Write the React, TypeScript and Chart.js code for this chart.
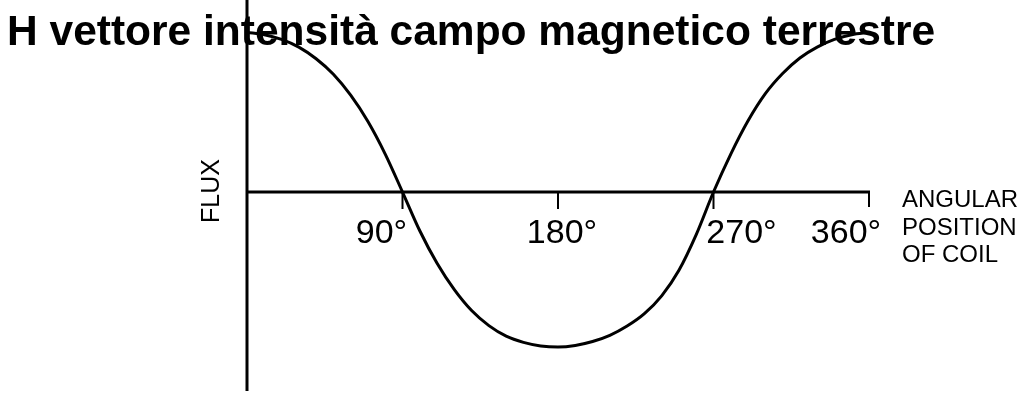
import React, { useEffect, useRef } from "react";
import { Chart, registerables } from "chart.js";

Chart.register(...registerables);

const titleText = "H vettore intensità campo magnetico terrestre";
const yAxisLabel = "FLUX";
const xAxisLabelLines = ["ANGULAR", "POSITION", "OF COIL"];

const angles = [0, 10, 20, 30, 40, 50, 60, 70, 80, 90, 100, 110, 120, 130, 140, 150, 160, 170, 180, 190, 200, 210, 220, 230, 240, 250, 260, 270, 280, 290, 300, 310, 320, 330, 340, 350, 360];
const flux = [1.03, 1.015, 0.985, 0.935, 0.86, 0.76, 0.625, 0.455, 0.245, 0, -0.25, -0.46, -0.63, -0.765, -0.862, -0.93, -0.97, -0.993, -1.0, -0.99, -0.965, -0.925, -0.865, -0.785, -0.67, -0.505, -0.275, 0, 0.245, 0.46, 0.635, 0.765, 0.865, 0.935, 0.985, 1.015, 1.03];

const tickValues = [90, 180, 270, 360];
const tickLabels = ["90°", "180°", "270°", "360°"];
const tickLabelOffsets = [-21, 4, 28, -23];

const FONT = '"Liberation Sans", Arial, Helvetica, sans-serif';

const annotatePlugin = {
  id: "annotate",
  beforeDatasetsDraw(chart: any) {
    const { ctx, chartArea } = chart;
    const xs = chart.scales.x;
    const ys = chart.scales.y;
    const x0 = xs.getPixelForValue(0);
    const x1 = xs.getPixelForValue(360);
    const y0 = ys.getPixelForValue(0);
    ctx.save();
    ctx.strokeStyle = "#000";
    ctx.lineWidth = 3;
    ctx.lineCap = "butt";
    ctx.beginPath();
    ctx.moveTo(x0, chartArea.top);
    ctx.lineTo(x0, chartArea.bottom);
    ctx.moveTo(x0, y0);
    ctx.lineTo(x1 + 1, y0);
    ctx.stroke();
    ctx.lineWidth = 2;
    tickValues.forEach((v, i) => {
      const px = xs.getPixelForValue(v);
      ctx.beginPath();
      ctx.moveTo(px, y0);
      ctx.lineTo(px, y0 + (i === tickValues.length - 1 ? 15 : 17));
      ctx.stroke();
    });
    ctx.restore();
  },
  afterDraw(chart: any) {
    const { ctx } = chart;
    const xs = chart.scales.x;
    const ys = chart.scales.y;
    const x1 = xs.getPixelForValue(360);
    const y0 = ys.getPixelForValue(0);
    const x0 = xs.getPixelForValue(0);
    ctx.save();
    ctx.fillStyle = "#000";
    ctx.font = `34px ${FONT}`;
    ctx.textAlign = "center";
    ctx.textBaseline = "alphabetic";
    tickValues.forEach((v, i) => {
      const px = xs.getPixelForValue(v) + tickLabelOffsets[i];
      ctx.fillText(tickLabels[i], px, y0 + 51);
    });
    ctx.font = `24px ${FONT}`;
    ctx.textAlign = "left";
    xAxisLabelLines.forEach((t, i) => {
      ctx.fillText(t, x1 + 33, y0 + 15 + i * 27.5);
    });
    ctx.save();
    ctx.translate(x0 - 35, y0 - 1);
    ctx.rotate(-Math.PI / 2);
    ctx.font = `25px ${FONT}`;
    ctx.textAlign = "center";
    ctx.textBaseline = "middle";
    ctx.fillText(yAxisLabel, 0, 0);
    ctx.restore();
    ctx.font = `bold 42.5px ${FONT}`;
    ctx.textAlign = "left";
    ctx.textBaseline = "alphabetic";
    ctx.fillText(titleText, 7, 45);
    ctx.restore();
  },
};

export default function App() {
  const ref = useRef<HTMLCanvasElement>(null);
  useEffect(() => {
    document.body.style.margin = "0";
    const canvas = ref.current;
    if (!canvas) return;
    const chart = new Chart(canvas, {
      type: "line",
      data: {
        datasets: [
          {
            data: angles.map((a, i) => ({ x: a, y: flux[i] })),
            borderColor: "#000",
            borderWidth: 3,
            pointRadius: 0,
            cubicInterpolationMode: "monotone",
            fill: false,
          },
        ],
      },
      options: {
        animation: false,
        responsive: false,
        maintainAspectRatio: false,
        layout: { padding: { left: 247, right: 166, top: 0, bottom: 7 } },
        plugins: {
          legend: { display: false },
          title: { display: false },
          tooltip: { enabled: false },
        },
        scales: {
          x: { type: "linear", min: 0, max: 360, display: false },
          y: { type: "linear", min: -1.284, max: 1.239, display: false },
        },
      },
      plugins: [annotatePlugin],
    });
    return () => chart.destroy();
  }, []);
  return (
    <div style={{ position: "absolute", left: 0, top: 0, width: 1035, height: 398, background: "#fff" }}>
      <canvas ref={ref} width={1035} height={398} />
    </div>
  );
}
